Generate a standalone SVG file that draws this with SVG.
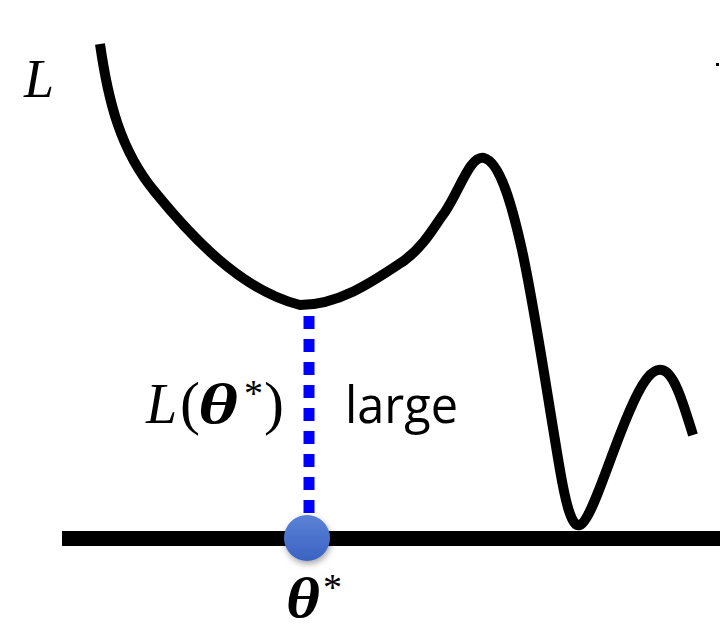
<svg xmlns="http://www.w3.org/2000/svg" width="720" height="644" viewBox="0 0 720 644">
<style>
.curve{fill:none;stroke:#000;stroke-width:10;stroke-linejoin:round}
.axis{stroke:#000;stroke-width:15}
.dots{stroke:#0000ff;stroke-width:11;stroke-dasharray:13 10}
.math{font-family:"Liberation Serif","DejaVu Serif",serif;font-style:italic}
.sans{font-family:"Open Sans","Liberation Sans",sans-serif}
</style>
<defs>
<linearGradient id="ball" x1="0" y1="0" x2="0" y2="1">
<stop offset="0" stop-color="#5b82d6"/>
<stop offset="1" stop-color="#3a63c2"/>
</linearGradient>
<filter id="sh" x="-50%" y="-50%" width="200%" height="200%">
<feDropShadow dx="1" dy="3" stdDeviation="3" flood-color="#000" flood-opacity="0.35"/>
</filter>
</defs>
<rect width="720" height="644" fill="#fff"/>
<g id="axis"><line class="axis" x1="62" y1="538.500" x2="720" y2="538.500"/></g>
<g id="loss-curve">
<path class="curve" d="M100,44 C108,100 120,150 155,192 C190,235 240,290 300,305 C340,305 375,280 405,260 C425,245 435,225 445,212 C460,190 470,155 484,158 C500,162 512,205 522,250 C535,310 548,400 560,470 C566,505 572,528 580,525 C592,520 610,455 630,410 C642,382 652,368 662,370 C675,372 685,410 693,435"/>
</g>
<g id="connectors">
<line class="dots" x1="309" y1="316" x2="309" y2="520"/>
</g>
<g id="theta-point">
<circle cx="307" cy="538" r="23" fill="url(#ball)" filter="url(#sh)"/>
</g>
<g id="labels">
<text class="math" x="24" y="97" font-size="54">L</text>
<text class="math" y="423" font-size="56"><tspan x="146">L</tspan><tspan x="180" font-style="normal" font-size="60">(</tspan><tspan x="198" font-weight="bold" textLength="40" lengthAdjust="spacingAndGlyphs">θ</tspan><tspan x="244" font-style="normal" font-size="38" y="406">*</tspan><tspan x="264" y="423" font-style="normal" font-size="60">)</tspan></text>
<text class="sans" x="345" y="423" font-size="52" textLength="113" lengthAdjust="spacingAndGlyphs">large</text>
<text class="math" y="617" font-size="58" font-weight="bold"><tspan x="286" textLength="34" lengthAdjust="spacingAndGlyphs">θ</tspan><tspan x="323" y="600" font-weight="normal" font-style="normal" font-size="38">*</tspan></text>
</g>
<rect x="716" y="63" width="3" height="3" fill="#000"/>
</svg>
